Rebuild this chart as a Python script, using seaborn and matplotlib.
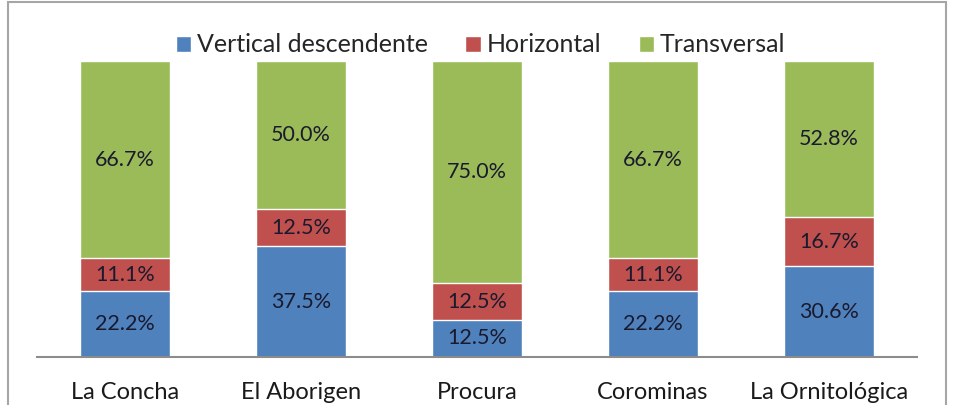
import numpy as np
import pandas as pd
import seaborn as sns
import matplotlib.pyplot as plt
from matplotlib.patches import Rectangle, Patch

sitios = ['La Concha', 'El Aborigen', 'Procura', 'Corominas', 'La Ornitológica']
vertical = [22.2, 37.5, 12.5, 22.2, 30.6]
horizontal = [11.1, 12.5, 12.5, 11.1, 16.7]
transversal = [66.7, 50.0, 75.0, 66.7, 52.8]
series = ['Vertical descendente', 'Horizontal', 'Transversal']
colores = ['#4F81BD', '#C0504D', '#9BBB59']

df = pd.DataFrame({'sitio': sitios, 'v': vertical, 'h': horizontal, 't': transversal})
df['vh'] = df['v'] + df['h']
df['total'] = df['vh'] + df['t']

sns.set_style('white')
plt.rcParams['font.family'] = ['Lato', 'DejaVu Sans']

fig = plt.figure(figsize=(9.61, 4.05), dpi=100)
ax = fig.add_axes([37/961, 48/405, 880/961, 296/405])

# stacked by drawing the cumulative totals from back to front
sns.barplot(data=df, x='sitio', y='total', color=colores[2], width=0.51, saturation=1, ax=ax)
sns.barplot(data=df, x='sitio', y='vh', color=colores[1], width=0.51, saturation=1, ax=ax)
sns.barplot(data=df, x='sitio', y='v', color=colores[0], width=0.51, saturation=1, ax=ax)

txt = '#1a1a2e'
for i, row in df.iterrows():
    ax.text(i, row['v'] / 2, f"{row['v']:.1f}%", ha='center', va='center', fontsize=15.5, color=txt)
    ax.text(i, row['v'] + row['h'] / 2, f"{row['h']:.1f}%", ha='center', va='center', fontsize=15.5, color=txt)
    ax.text(i, row['vh'] + row['t'] / 2, f"{row['t']:.1f}%", ha='center', va='center', fontsize=15.5, color=txt)

ax.set_ylim(0, 100)
ax.set_xlim(-0.5, 4.5)
ax.set_yticks([])
ax.set_xlabel('')
ax.set_ylabel('')
ax.tick_params(axis='x', length=0, labelsize=17, pad=18, colors='#1a1a1a')
for s in ['top', 'right', 'left']:
    ax.spines[s].set_visible(False)
ax.spines['bottom'].set_color('#8c8c8c')
ax.spines['bottom'].set_linewidth(1.5)

handles = [Patch(facecolor=c, label=s) for c, s in zip(colores, series)]
fig.legend(handles=handles, loc='center', bbox_to_anchor=(0.5, 1 - 45/405), ncol=3, frameon=False,
           fontsize=18, handlelength=0.62, handleheight=0.62, handletextpad=0.22, columnspacing=1.5)

fig.patches.append(Rectangle((8/961, -0.1), 938/961, 1.1 - 2/405, transform=fig.transFigure,
                             fill=False, edgecolor='#a6a6a6', linewidth=1.5))

fig.savefig('out.png', dpi=100)
